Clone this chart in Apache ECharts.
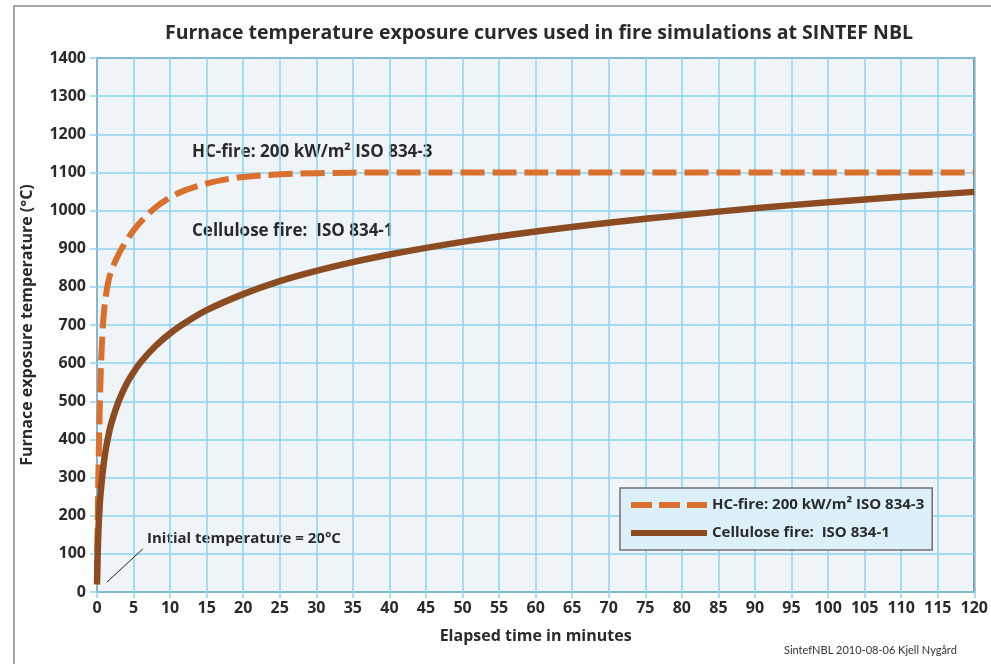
<!DOCTYPE html>
<html>
<head>
<meta charset="utf-8">
<script src="https://cdn.jsdelivr.net/npm/echarts@6/dist/echarts.min.js"></script>
<style>
  html, body { margin: 0; padding: 0; background: #ffffff; }
  #chart { width: 991px; height: 664px; }
</style>
</head>
<body>
<div id="chart"></div>
<script>
// Hydrocarbon fire curve (ISO 834-3), temperature in °C against minutes
const hcMinutes = [0, 0.1, 0.25, 0.5, 0.75, 1, 1.5, 2, 3, 4, 5, 6, 8, 10, 12, 15, 18, 20, 25, 30, 40, 50, 60, 120];
const hcTemps   = [20, 187, 373, 568, 679, 743, 809, 844, 887, 920, 948, 971, 1008, 1034, 1053, 1071, 1083, 1088, 1095, 1098, 1100, 1100, 1100, 1100];

// Cellulose (standard) fire curve (ISO 834-1)
const celMinutes = [0, 0.1, 0.25, 0.5, 1, 1.5, 2, 3, 4, 5, 6, 8, 10, 12, 15, 20, 25, 30, 35, 40, 50, 60, 70, 80, 90, 100, 110, 120];
const celTemps   = [20, 108, 185, 261, 349, 404, 445, 502, 544, 576, 603, 645, 678, 705, 739, 781, 815, 842, 865, 885, 918, 945, 968, 988, 1006, 1022, 1036, 1049];

// Axis ranges and steps
const xMin = 0, xMax = 120, xStep = 5;
const yMin = 0, yMax = 1400, yStep = 100;

// Leader line for the initial temperature note, in data units
const initialNoteLine = [[1.36, 26], [6.27, 113]];

const seriesNames = ['HC-fire: 200 kW/m² ISO 834-3', 'Cellulose fire:  ISO 834-1'];

const FONT = '"Open Sans", Lato, sans-serif';
const TEXT = '#2a2a2a';
const ORANGE = '#d9702d';
const BROWN = '#8c4b20';
const GRID_LINE = '#8cd5f1';

const pairs = (xs, ys) => xs.map((x, i) => [x, ys[i]]);

const chart = echarts.init(document.getElementById('chart'), null, { renderer: 'canvas' });

chart.setOption({
  backgroundColor: '#ffffff',
  animation: false,
  title: {
    text: 'Furnace temperature exposure curves used in fire simulations at SINTEF NBL',
    left: 534,
    textAlign: 'center',
    top: 18,
    textStyle: { fontFamily: FONT, fontWeight: 'bold', fontSize: 19.5, color: TEXT }
  },
  grid: {
    left: 97, top: 58, right: 14, bottom: 72,
    show: true,
    backgroundColor: '#eef4f8',
    borderColor: '#6e6e6e',
    borderWidth: 2
  },
  xAxis: {
    type: 'value',
    min: xMin, max: xMax, interval: xStep,
    name: 'Elapsed time in minutes',
    nameLocation: 'middle',
    nameGap: 36,
    nameTextStyle: { fontFamily: FONT, fontWeight: 'bold', fontSize: 16, color: TEXT },
    axisLine: { show: false },
    axisTick: { show: true, length: 6, lineStyle: { color: GRID_LINE, width: 1.5 } },
    axisLabel: { margin: 8, fontFamily: FONT, fontWeight: 'bold', fontSize: 16, color: TEXT,
                 formatter: v => String(v) },
    splitLine: { show: true, lineStyle: { color: GRID_LINE, width: 1.5 } }
  },
  yAxis: {
    type: 'value',
    min: yMin, max: yMax, interval: yStep,
    name: 'Furnace exposure temperature (°C)',
    nameLocation: 'middle',
    nameGap: 62,
    nameTextStyle: { fontFamily: FONT, fontWeight: 'bold', fontSize: 16, color: TEXT },
    axisLine: { show: false },
    axisTick: { show: true, length: 7, lineStyle: { color: GRID_LINE, width: 1.5 } },
    axisLabel: { margin: 11, fontFamily: FONT, fontWeight: 'bold', fontSize: 16, color: TEXT,
                 formatter: v => String(v) },
    splitLine: { show: true, lineStyle: { color: GRID_LINE, width: 1.5 } }
  },
  legend: {
    orient: 'vertical',
    left: 620,
    top: 488,
    backgroundColor: '#dcf0f9',
    borderColor: '#707070',
    borderWidth: 1.5,
    borderRadius: 0,
    padding: [8, 8, 8, 8],
    itemGap: 10,
    itemWidth: 76,
    itemHeight: 14,
    selectedMode: false,
    itemStyle: { opacity: 0 },
    textStyle: { fontFamily: FONT, fontWeight: 'bold', fontSize: 15, color: TEXT, lineHeight: 18 },
    data: [
      { name: seriesNames[0], lineStyle: { width: 6, type: [21, 7], color: ORANGE, cap: 'butt' } },
      { name: seriesNames[1], lineStyle: { width: 6, type: 'solid', color: BROWN } }
    ]
  },
  series: [
    {
      name: seriesNames[0],
      type: 'line',
      data: pairs(hcMinutes, hcTemps),
      showSymbol: false,
      symbol: 'none',
      smooth: 0.35,
      color: ORANGE,
      lineStyle: { color: ORANGE, width: 6, type: [24, 8], cap: 'butt' },
      z: 2
    },
    {
      name: seriesNames[1],
      type: 'line',
      data: pairs(celMinutes, celTemps),
      showSymbol: false,
      symbol: 'none',
      smooth: 0.35,
      color: BROWN,
      lineStyle: { color: BROWN, width: 6.5, cap: 'butt' },
      z: 3,
      markLine: {
        silent: true,
        symbol: 'none',
        label: { show: false },
        lineStyle: { color: '#222222', width: 1, type: 'solid' },
        data: [[{ coord: initialNoteLine[0] }, { coord: initialNoteLine[1] }]]
      }
    }
  ],
  graphic: [
    {
      type: 'rect',
      shape: { x: 14, y: 6, width: 1200, height: 900 },
      style: { fill: 'none', stroke: '#8a8a8a', lineWidth: 1.5 },
      silent: true
    },
    {
      type: 'text', left: 192, top: 144,
      style: { text: seriesNames[0], font: 'bold 17px ' + FONT, fill: TEXT }
    },
    {
      type: 'text', left: 192, top: 223,
      style: { text: seriesNames[1], font: 'bold 17px ' + FONT, fill: TEXT }
    },
    {
      type: 'text', left: 147, top: 531,
      style: { text: 'Initial temperature = 20°C', font: 'bold 15px ' + FONT, fill: TEXT }
    },
    {
      type: 'text', left: 784, top: 645,
      style: { text: 'SintefNBL 2010-08-06 Kjell Nygård', font: '11px Lato, sans-serif', fill: '#333333' }
    }
  ]
});
</script>
</body>
</html>
